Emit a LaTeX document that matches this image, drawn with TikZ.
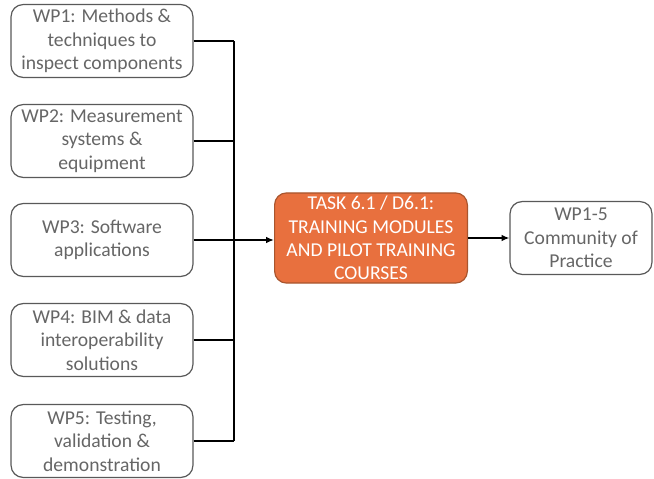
\documentclass[tikz,border=0pt]{standalone}
\usepackage{fontspec}
\setmainfont{Carlito}
\usetikzlibrary{arrows.meta}
\definecolor{boxgray}{HTML}{595959}
\definecolor{txtgray}{HTML}{666666}
\definecolor{taskorange}{HTML}{E8703E}
\definecolor{taskedge}{HTML}{A9552E}
\tikzset{
	wpbox/.style={draw=boxgray, line width=0.9pt, rounded corners=9pt, fill=white,
		text=txtgray, align=center, minimum width=4.82cm, minimum height=1.93cm,
		inner sep=0pt, font=\fontsize{14.8}{17.6}\selectfont},
	taskbox/.style={wpbox, draw=taskedge, fill=taskorange, text=white,
		minimum width=5.11cm, minimum height=2.39cm},
	link/.style={line width=1.5pt, black},
	feed/.style={link, -{Latex[length=6pt,width=5pt]}}
}
\begin{document}
\begin{tikzpicture}[x=0.0265cm, y=-0.0265cm]
		%%%%% START %%%%%
		\useasboundingbox (0, 0) rectangle (654, 479);
		
		\node[wpbox] (wp1) at (102, 41) {WP1: Methods \&\\techniques to\\inspect components};
		\node[wpbox] (wp2) at (102, 141) {WP2: Measurement\\systems \&\\equipment};
		\node[wpbox] (wp3) at (102, 240) {WP3: Software\\applications};
		\node[wpbox] (wp4) at (102, 340) {WP4: BIM \& data\\interoperability\\solutions};
		\node[wpbox] (wp5) at (102, 441) {WP5: Testing,\\validation \&\\demonstration};
		
		\node[taskbox] (task) at (371, 238) {TASK 6.1 / D6.1:\\TRAINING MODULES\\AND PILOT TRAINING\\COURSES};
		\node[wpbox, minimum width=3.76cm] (cop) at (581, 238) {WP1-5\\Community of\\Practice};
		
		% bus line
		\coordinate (bustop) at (234, 41);
		\coordinate (busbot) at (234, 441);
		\draw[link] (bustop) -- (busbot);
		\foreach \wp in {wp1, wp2, wp4, wp5}
			\draw[link] (\wp.east) -- (\wp.east -| bustop);
		\draw[feed] (wp3.east) -- (wp3.east -| task.west);
		\draw[feed] (task.east) -- (cop.west);
		
		%%%%% END %%%%%
\end{tikzpicture}
\end{document}
